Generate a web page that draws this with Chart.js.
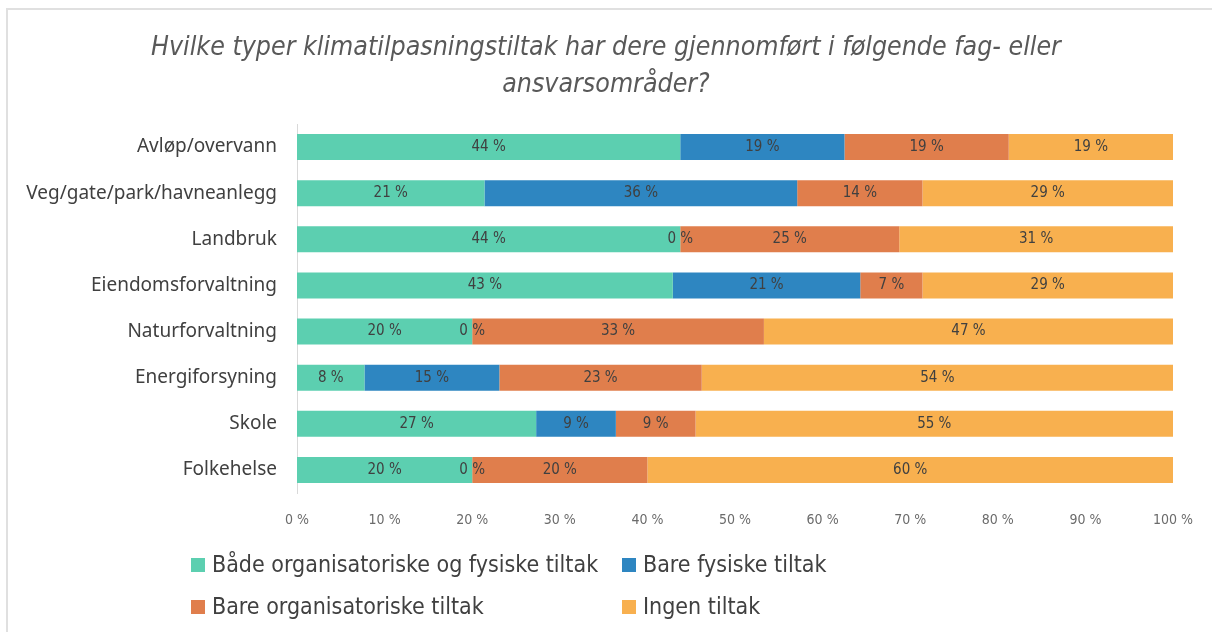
<!DOCTYPE html>
<html>
<head>
<meta charset="utf-8">
<script src="https://cdn.jsdelivr.net/npm/chart.js@4.4.1/dist/chart.umd.min.js"></script>
<style>
  html, body { margin: 0; padding: 0; background: #fff; }
  #frame {
    position: absolute; left: 6px; top: 8px; width: 1206px; height: 624px;
    border-left: 2px solid #e0e0e0; border-top: 2px solid #e0e0e0; box-sizing: border-box;
  }
  #wrap { position: absolute; left: 0; top: 0; width: 1212px; height: 632px; }
  #title {
    position: absolute; left: 0; top: 27px; width: 1212px; text-align: center;
    font-family: "DejaVu Sans Condensed", sans-serif;
    font-style: italic; font-size: 26.5px; line-height: 37px; color: #595959;
  }
  .legend { position: absolute; font-family: "DejaVu Sans Condensed", sans-serif;
    font-size: 23px; line-height: 28px; color: #404040; white-space: nowrap; }
  .legend span.sw { display: inline-block; width: 14px; height: 14px; margin-right: 7px; vertical-align: 0px; }
</style>
</head>
<body>
<div id="frame"></div>
<div id="wrap"><canvas id="chart" width="1212" height="632"></canvas></div>
<div id="title">Hvilke typer klimatilpasningstiltak har dere gjennomført i følgende fag- eller<br>ansvarsområder?</div>
<div id="legend"></div>
<script>
// Categories and series (share of respondents, %)
const categories = [
    'Avløp/overvann',
    'Veg/gate/park/havneanlegg',
    'Landbruk',
    'Eiendomsforvaltning',
    'Naturforvaltning',
    'Energiforsyning',
    'Skole',
    'Folkehelse'
];
const seriesNames = [
    'Både organisatoriske og fysiske tiltak',
    'Bare fysiske tiltak',
    'Bare organisatoriske tiltak',
    'Ingen tiltak'
];
const bothValues = [43.75, 21.4, 43.75, 42.9, 20, 7.7, 27.3, 20];
const physicalValues = [18.75, 35.7, 0, 21.4, 0, 15.4, 9.1, 0];
const organisationalValues = [18.75, 14.3, 25, 7.1, 33.3, 23.1, 9.1, 20];
const noneValues = [18.75, 28.6, 31.25, 28.6, 46.7, 53.8, 54.5, 60];
const xTicks = [0, 10, 20, 30, 40, 50, 60, 70, 80, 90, 100];

const colors = ['#5ccfb0', '#2e86c1', '#e07e4c', '#f8b04f'];
const allValues = [bothValues, physicalValues, organisationalValues, noneValues];

// HTML legend laid out like the original (two rows, two columns)
const legendPos = [[191, 550], [622, 550], [191, 592], [622, 592]];
document.getElementById('legend').innerHTML = seriesNames.map((name, i) =>
    `<div class="legend" style="left:${legendPos[i][0]}px;top:${legendPos[i][1]}px">` +
    `<span class="sw" style="background:${colors[i]}"></span>${name}</div>`
).join('');

// Draw the value labels centred in each segment
const segmentLabels = {
    id: 'segmentLabels',
    afterDatasetsDraw(chart) {
        const ctx = chart.ctx;
        ctx.save();
        ctx.font = '15px "DejaVu Sans Condensed", sans-serif';
        ctx.fillStyle = '#404040';
        ctx.textAlign = 'center';
        ctx.textBaseline = 'middle';
        chart.data.datasets.forEach((ds, i) => {
            chart.getDatasetMeta(i).data.forEach((el, j) => {
                const x = (el.x + el.base) / 2;
                ctx.fillText(Math.round(ds.data[j]) + ' %', x, el.y);
            });
        });
        ctx.restore();
    }
};

new Chart(document.getElementById('chart').getContext('2d'), {
    type: 'bar',
    data: {
        labels: categories,
        datasets: seriesNames.map((name, i) => ({
            label: name,
            data: allValues[i],
            backgroundColor: colors[i],
            borderWidth: 0,
            barPercentage: 1,
            categoryPercentage: 0.565
        }))
    },
    options: {
        indexAxis: 'y',
        responsive: false,
        animation: false,
        layout: { padding: { left: 7, right: 38, top: 124, bottom: 99 } },
        plugins: {
            legend: { display: false },
            title: { display: false },
            tooltip: { enabled: false }
        },
        scales: {
            x: {
                stacked: true,
                min: 0,
                max: 100,
                afterBuildTicks: scale => { scale.ticks = xTicks.map(v => ({ value: v })); },
                afterFit: scale => { scale.height = 40; },
                grid: { display: false, drawTicks: false },
                border: { display: false },
                ticks: {
                    padding: 19,
                    color: '#6b6b6b',
                    font: { family: '"DejaVu Sans Condensed", sans-serif', size: 14 },
                    callback: v => v + ' %'
                }
            },
            y: {
                stacked: true,
                afterFit: scale => { scale.width = 290; },
                grid: { display: false, drawTicks: false },
                border: { display: true, color: '#d9d9d9', width: 1 },
                ticks: {
                    padding: 20,
                    color: '#404040',
                    font: { family: '"Noto Sans", "DejaVu Sans", sans-serif', size: 19 }
                }
            }
        }
    },
    plugins: [segmentLabels]
});
</script>
</body>
</html>
